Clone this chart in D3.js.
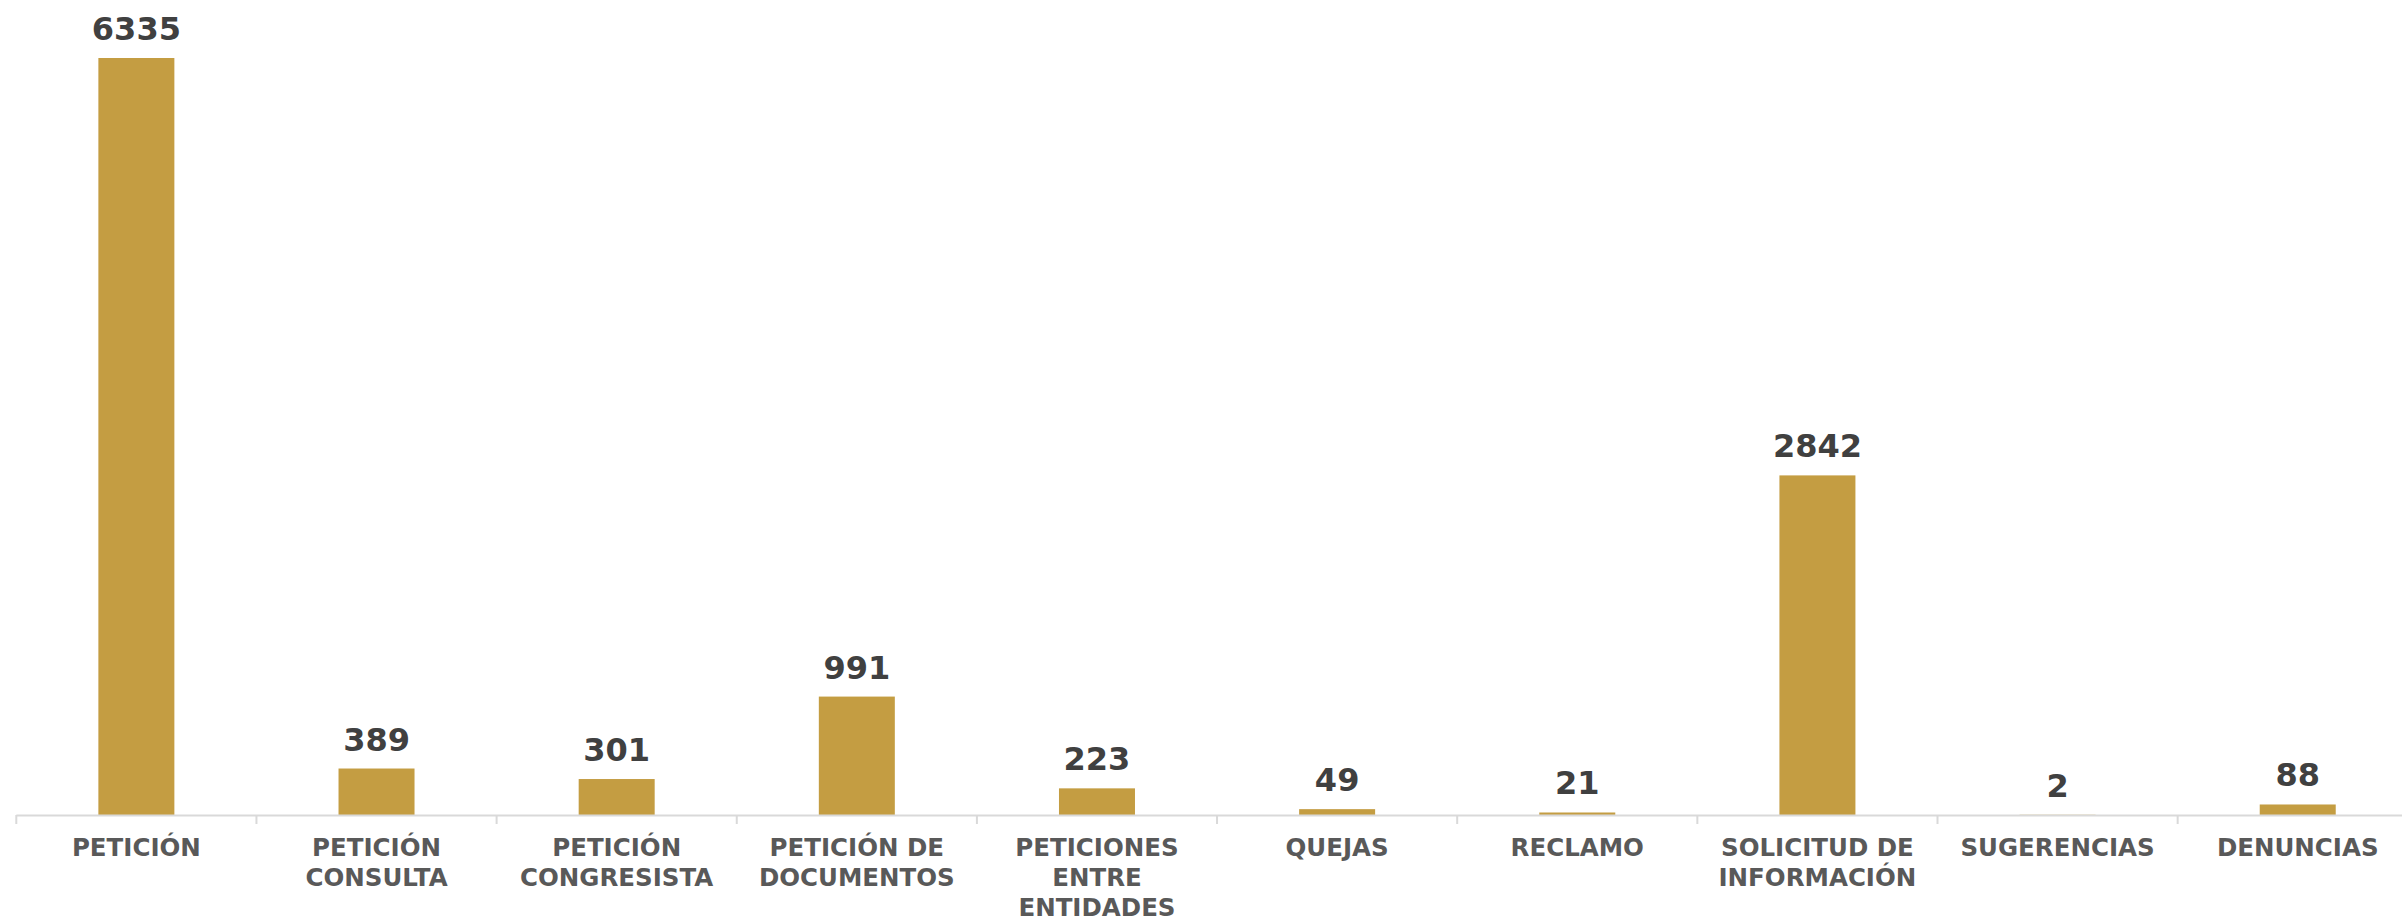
<!DOCTYPE html>
<html><head><meta charset="utf-8">
<script src="https://cdn.jsdelivr.net/npm/d3@7/dist/d3.min.js"></script>
<style>body{margin:0;background:#fff;overflow:hidden}svg{display:block}</style>
</head><body>
<script>
const categories = ["PETICIÓN","PETICIÓN CONSULTA","PETICIÓN CONGRESISTA","PETICIÓN DE DOCUMENTOS","PETICIONES ENTRE ENTIDADES","QUEJAS","RECLAMO","SOLICITUD DE INFORMACIÓN","SUGERENCIAS","DENUNCIAS"];
const labelLines = [["PETICIÓN"],["PETICIÓN","CONSULTA"],["PETICIÓN","CONGRESISTA"],["PETICIÓN DE","DOCUMENTOS"],["PETICIONES","ENTRE","ENTIDADES"],["QUEJAS"],["RECLAMO"],["SOLICITUD DE","INFORMACIÓN"],["SUGERENCIAS"],["DENUNCIAS"]];
const values = [6335,389,301,991,223,49,21,2842,2,88];

const W = 2402, H = 917;
const svg = d3.select("body").append("svg").attr("width", W).attr("height", H);
const x = d3.scaleBand().domain(categories).range([16.3, 16.3 + 240.15*10]).paddingInner(0).paddingOuter(0);
const y = d3.scaleLinear().domain([0, 6335]).range([815, 58]);
const bw = 76;

svg.append("g").selectAll("rect").data(values).join("rect")
  .attr("x", (d,i) => x(categories[i]) + x.bandwidth()/2 - bw/2)
  .attr("y", d => y(d))
  .attr("width", bw)
  .attr("height", d => y(0) - y(d))
  .attr("fill", "#C49D42");

// axis
const ax = svg.append("g");
ax.append("line").attr("x1", x.range()[0]).attr("x2", x.range()[1]).attr("y1", 815.5).attr("y2", 815.5)
  .attr("stroke", "#D9D9D9").attr("stroke-width", 2);
const ticks = categories.map(c => x(c)).concat([x.range()[1]]);
ax.selectAll("line.t").data(ticks).join("line").attr("class","t")
  .attr("x1", d => d).attr("x2", d => d).attr("y1", 815).attr("y2", 824)
  .attr("stroke", "#D9D9D9").attr("stroke-width", 2);

// category labels
const lg = svg.append("g").attr("font-family", "'DejaVu Sans', Verdana, sans-serif").attr("font-weight", "bold")
  .attr("font-size", 24.5).attr("fill", "#595959").attr("text-anchor", "middle");
lg.selectAll("text").data(labelLines).join("text")
  .attr("x", (d,i) => x(categories[i]) + x.bandwidth()/2)
  .attr("y", 856)
  .each(function(lines){
    const t = d3.select(this);
    lines.forEach((l,j) => t.append("tspan").attr("x", t.attr("x")).attr("y", 856 + j*30).text(l));
  });

// value labels
svg.append("g").attr("font-family", "'DejaVu Sans', Verdana, sans-serif").attr("font-weight", "bold")
  .attr("font-size", 32).attr("fill", "#404040").attr("text-anchor", "middle")
  .selectAll("text").data(values).join("text")
  .attr("x", (d,i) => x(categories[i]) + x.bandwidth()/2)
  .attr("y", d => y(d) - 18)
  .text(d => d);
</script>
</body></html>
